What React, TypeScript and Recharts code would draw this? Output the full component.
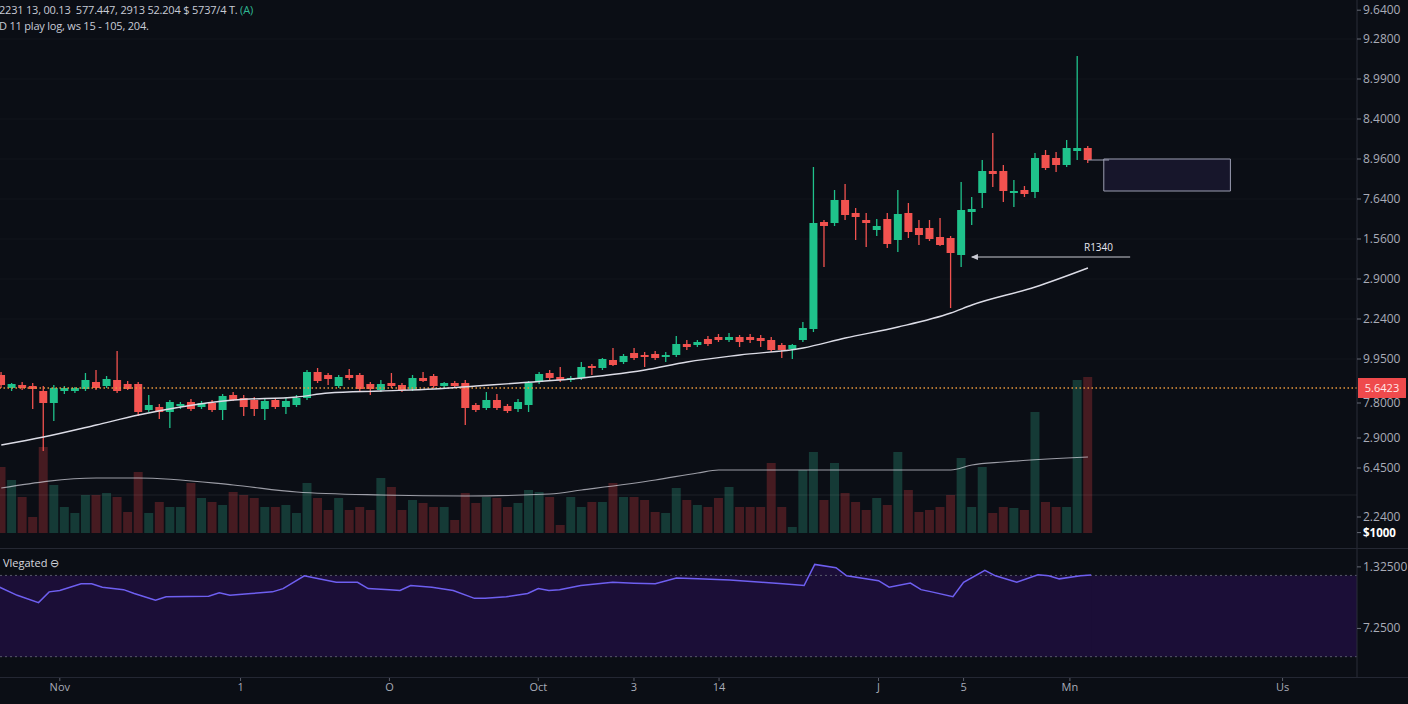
import React from 'react';
import {
  ComposedChart, Bar, Line, Area, XAxis, YAxis, ReferenceLine, ReferenceArea,
  ReferenceDot, Cell, CartesianGrid,
} from 'recharts';

// ---------- data ----------
const openP = [
  4.6, 4.275, 4.35, 4.325, 4.2, 3.9, 4.2, 4.2, 4.25, 4.425,
  4.325, 4.475, 4.375, 4.375, 3.725, 3.8, 3.675, 3.825, 3.925, 3.8,
  3.9, 3.725, 4.1, 4.025, 3.975, 3.75, 3.975, 3.8, 3.85, 4.025,
  4.675, 4.6, 4.325, 4.6, 4.6, 4.375, 4.225, 4.4, 4.35, 4.25,
  4.525, 4.575, 4.325, 4.4, 4.4, 3.85, 3.775, 3.975, 3.825, 3.75,
  3.85, 4.425, 4.65, 4.55, 4.475, 4.525, 4.825, 4.775, 4.975, 4.925,
  5.15, 5.1, 5.125, 5.05, 5.1, 5.375, 5.35, 5.5, 5.55, 5.475,
  5.55, 5.55, 5.525, 5.475, 5.35, 5.25, 5.475, 5.75, 8.425, 8.4,
  8.975, 8.65, 8.475, 8.225, 8.5, 7.975, 8.65, 8.275, 8.275, 8.05,
  8.025, 7.6, 8.675, 9.15, 9.7, 9.7, 9.15, 9.225, 9.175, 10.1,
  10.025, 9.85, 10.2, 10.275,
];
const highP = [
  4.675, 4.4, 4.425, 4.4, 4.325, 4.35, 4.325, 4.3, 4.65, 4.725,
  4.575, 5.2, 4.45, 4.425, 4.1, 3.875, 3.975, 3.925, 4.0, 3.95,
  3.975, 4.125, 4.175, 4.1, 4.05, 4.0, 4.025, 4.025, 4.1, 4.725,
  4.775, 4.65, 4.6, 4.75, 4.65, 4.425, 4.475, 4.65, 4.4, 4.6,
  4.675, 4.625, 4.425, 4.45, 4.475, 3.9, 4.175, 4.125, 3.875, 4.0,
  4.45, 4.675, 4.725, 4.8, 4.575, 4.925, 4.875, 5.025, 5.275, 5.125,
  5.275, 5.175, 5.2, 5.175, 5.575, 5.475, 5.475, 5.575, 5.625, 5.65,
  5.6, 5.625, 5.6, 5.55, 5.4, 5.375, 5.925, 9.8, 8.475, 9.225,
  9.375, 8.775, 8.65, 8.5, 8.65, 9.225, 8.9, 8.475, 8.475, 8.525,
  8.075, 9.425, 9.05, 9.975, 10.65, 9.85, 9.475, 9.325, 10.15, 10.225,
  10.175, 10.475, 12.575, 10.325,
];
const lowP = [
  4.275, 4.2, 4.225, 3.75, 2.7, 3.45, 4.125, 4.15, 4.2, 4.225,
  4.275, 4.15, 4.225, 3.575, 3.675, 3.5, 3.275, 3.75, 3.7, 3.75,
  3.675, 3.475, 3.95, 3.575, 3.575, 3.475, 3.75, 3.625, 3.8, 3.975,
  4.4, 4.35, 4.275, 4.475, 4.2, 4.1, 4.175, 4.275, 4.175, 4.2,
  4.425, 4.275, 4.275, 4.275, 3.35, 3.675, 3.725, 3.725, 3.65, 3.675,
  3.675, 4.375, 4.475, 4.425, 4.425, 4.475, 4.6, 4.725, 4.825, 4.875,
  4.975, 4.8, 4.975, 4.925, 5.05, 5.225, 5.3, 5.325, 5.425, 5.425,
  5.3, 5.4, 5.3, 5.175, 5.025, 5.0, 5.425, 5.675, 7.3, 8.325,
  8.475, 7.975, 7.8, 8.075, 7.775, 7.675, 8.025, 7.85, 7.95, 7.825,
  6.275, 7.3, 8.35, 8.775, 9.3, 8.925, 8.8, 9.05, 9.025, 9.725,
  9.675, 9.8, 9.975, 9.9,
];
const closeP = [
  4.35, 4.375, 4.275, 4.25, 3.9, 4.275, 4.275, 4.275, 4.475, 4.275,
  4.5, 4.2, 4.25, 3.675, 3.85, 3.675, 3.925, 3.875, 3.75, 3.9,
  3.725, 4.075, 3.975, 3.8, 3.75, 3.95, 3.8, 3.95, 4.025, 4.675,
  4.45, 4.5, 4.55, 4.525, 4.25, 4.25, 4.375, 4.325, 4.225, 4.525,
  4.45, 4.325, 4.4, 4.325, 3.775, 3.725, 3.975, 3.775, 3.7, 3.925,
  4.4, 4.625, 4.525, 4.475, 4.525, 4.8, 4.775, 5.0, 4.85, 5.075,
  5.025, 5.05, 5.025, 5.1, 5.375, 5.3, 5.425, 5.375, 5.475, 5.55,
  5.425, 5.475, 5.45, 5.225, 5.225, 5.35, 5.775, 8.4, 8.325, 8.975,
  8.6, 8.55, 8.4, 8.325, 7.875, 8.625, 8.175, 8.1, 8.0, 7.85,
  7.65, 8.725, 8.75, 9.7, 9.625, 9.2, 9.2, 9.125, 10.025, 9.775,
  9.85, 10.275, 10.275, 9.975,
];
const volume = [
  660, 530, 360, 160, 860, 480, 260, 200, 380, 380,
  400, 360, 210, 610, 200, 310, 260, 260, 500, 350,
  310, 280, 410, 380, 350, 260, 260, 280, 200, 500,
  350, 230, 350, 230, 260, 230, 550, 460, 230, 330,
  300, 260, 260, 130, 400, 300, 360, 350, 260, 300,
  430, 410, 360, 80, 360, 260, 310, 310, 500, 360,
  360, 330, 210, 200, 450, 330, 280, 260, 350, 460,
  260, 260, 260, 700, 260, 60, 630, 810, 330, 700,
  400, 310, 230, 350, 280, 810, 430, 210, 230, 260,
  380, 750, 260, 660, 200, 260, 250, 230, 1210, 310,
  260, 260, 1530, 1560,
];
// moving average of price, read at sampled candles
const maIdx = [0, 4, 9, 13, 17, 22, 28, 31, 36, 41, 45, 49, 54, 61, 65, 70, 76, 80, 85, 90, 92, 98, 103];
const maVal = [2.85, 3.05, 3.35, 3.6, 3.8, 3.975, 4.05, 4.15, 4.2, 4.25, 4.325, 4.4, 4.5, 4.725, 4.925, 5.1, 5.275, 5.525, 5.8, 6.15, 6.35, 6.8, 7.275];
// moving average of volume
const volMaIdx = [0, 9, 13, 22, 28, 36, 44, 52, 55, 62, 66, 68, 79, 90, 92, 95, 103];
const volMaVal = [450, 550, 550, 480, 410, 380, 370, 390, 430, 530, 600, 630, 630, 630, 680, 710, 760];
// oscillator
const oscIdx = [0, 2, 4, 5, 6, 8, 9, 10, 12, 13, 15, 16, 20, 21, 22, 24, 26, 27, 29, 30, 32, 34, 35, 37, 38, 39, 41, 43, 45, 46, 48, 50, 51, 52, 53, 55, 58, 60, 62, 64, 66, 69, 72, 74, 76, 77, 79, 80, 83, 84, 86, 87, 88, 90, 91, 93, 94, 96, 98, 99, 100, 102, 103];
const oscVal = [65.0, 60.2, 56.6, 61.9, 62.6, 65.9, 65.9, 64.2, 63.0, 61.1, 57.8, 59.5, 59.8, 61.4, 60.2, 61.1, 61.9, 63.5, 69.8, 68.7, 66.6, 66.6, 63.5, 63.0, 62.6, 65.0, 64.2, 62.6, 58.7, 58.7, 59.5, 61.1, 63.5, 62.6, 63.0, 65.0, 66.6, 66.2, 65.9, 68.7, 68.3, 67.8, 66.6, 65.9, 65.0, 75.4, 73.8, 69.8, 67.4, 64.2, 66.2, 63.0, 61.9, 59.5, 66.6, 72.5, 69.8, 66.6, 70.3, 69.8, 68.3, 69.8, 70.2];

const SLOTS = 129;
const xTickIdx = [6, 23, 37, 51, 60, 68, 83, 91, 101, 121];
const xTickLabels = ['Nov', '1', 'O', 'Oct', '3', '14', 'J', '5', 'Mn', 'Us'];
const priceTicks = [13.72, 13, 12, 11, 10, 9, 8, 7, 6, 5, 3.9, 3.025, 2.275, 1.05, 0.66];
const priceTickLabels = ['9.6400', '9.2800', '8.9900', '8.4000', '8.9600', '7.6400', '1.5600', '2.9000', '2.2400', '9.9500', '7.8000', '2.9000', '6.4500', '2.2400', '$1000'];
const oscTicks = [74.2, 43.9];
const oscTickLabels = ['1.32500', '7.2500'];
const lastPrice = 4.275;
const lastPriceLabel = '5.6423';
const levelLabel = 'R1340';
const headerLine1 = '2231 13, 00.13  577.447, 2913 52.204 $ 5737/4 T.';
const headerLine2 = 'D 11 play log, ws 15 - 105, 204.';
const oscTitle = 'Vlegated \u2296';

// ---------- table ----------
const rows = Array.from({ length: SLOTS }, (_, i) => {
  const has = i < openP.length;
  const mi = maIdx.indexOf(i);
  const vi = volMaIdx.indexOf(i);
  const oi = oscIdx.indexOf(i);
  return {
    i,
    o: has ? openP[i] : null,
    h: has ? highP[i] : null,
    l: has ? lowP[i] : null,
    c: has ? closeP[i] : null,
    range: has ? [lowP[i], highP[i]] : null,
    vol: has ? volume[i] : null,
    up: has ? closeP[i] >= openP[i] : false,
    ma: mi >= 0 ? maVal[mi] : null,
    volMa: vi >= 0 ? volMaVal[vi] : null,
    osc: oi >= 0 ? oscVal[oi] : null,
  };
});

// ---------- style ----------
const BG = '#0b0e15';
const GREEN = '#1fc28b';
const RED = '#f2524f';
const VOL_GREEN = '#153a36';
const VOL_RED = '#461b21';
const AXIS = '#2a2d38';
const TXT = '#a9acb8';
const FONT = '"Open Sans", "Noto Sans", sans-serif';
const W = 1412;
const AXW = 51;

const NoDot = () => <g />;

const Candle = (props: any) => {
  const { x, y, width, height, payload } = props;
  if (!payload || payload.o == null || x == null || y == null) return null;
  const top = Math.min(y, y + height);
  const hh = Math.abs(height);
  const span = payload.h - payload.l || 1;
  const yO = top + ((payload.h - payload.o) / span) * hh;
  const yC = top + ((payload.h - payload.c) / span) * hh;
  const color = payload.up ? GREEN : RED;
  const bodyTop = Math.min(yO, yC);
  const bodyH = Math.max(1.5, Math.abs(yC - yO));
  const cx = x + width / 2;
  return (
    <g>
      <line x1={cx} x2={cx} y1={top} y2={top + hh} stroke={color} strokeWidth={1.3} />
      <rect x={x} y={bodyTop} width={width} height={bodyH} fill={color} />
    </g>
  );
};

const PriceTick = (props: any) => {
  const { x, y, payload } = props;
  const k = priceTicks.indexOf(payload.value);
  const label = k >= 0 ? priceTickLabels[k] : '';
  const bold = label.startsWith('$');
  return (
    <text x={x} y={y} dy={4} fill={bold ? '#ffffff' : TXT} fontSize={bold ? 11.5 : 12}
      fontWeight={bold ? 700 : 400} fontFamily={FONT}>{label}</text>
  );
};

const OscTick = (props: any) => {
  const { x, y, payload } = props;
  const k = oscTicks.indexOf(payload.value);
  return (
    <text x={x} y={y} dy={4} fill={TXT} fontSize={12} fontFamily={FONT}>
      {k >= 0 ? oscTickLabels[k] : ''}
    </text>
  );
};

const PriceTag = (props: any) => {
  const vb = props.viewBox || {};
  const x = (vb.x ?? 0) + (vb.width ?? 0);
  const y = vb.y ?? 0;
  return (
    <g>
      <rect x={x + 1} y={y - 10} width={48} height={20} fill="#ef4a4c" />
      <text x={x + 25} y={y + 4} textAnchor="middle" fill="#ffe9e9" fontSize={11}
        fontFamily={FONT}>{lastPriceLabel}</text>
    </g>
  );
};

export default function App() {
  return (
    <div style={{ position: 'fixed', left: 0, top: 0, width: 1408, height: 704, background: BG, overflow: 'hidden', fontFamily: FONT }}>
      {/* volume pane */}
      <div style={{ position: 'absolute', left: -4, top: 300 }}>
        <ComposedChart width={W} height={233} data={rows} margin={{ top: 0, right: AXW, bottom: 0, left: 0 }} barCategoryGap="5%">
          <XAxis dataKey="i" type="category" hide />
          <YAxis type="number" domain={[0, 2330]} hide />
          <ReferenceLine y={380} stroke="#ffffff" strokeOpacity={0.08} />
          <Bar dataKey="vol" isAnimationActive={false}>
            {rows.map((r) => (
              <Cell key={r.i} fill={r.up ? VOL_GREEN : VOL_RED} />
            ))}
          </Bar>
          <Line dataKey="volMa" type="monotone" connectNulls dot={NoDot} activeDot={false} stroke="#d8d8e2"
            strokeOpacity={0.7} strokeWidth={1.2} isAnimationActive={false} />
        </ComposedChart>
      </div>

      {/* price pane */}
      <div style={{ position: 'absolute', left: -4, top: 0 }}>
        <ComposedChart width={W} height={548} data={rows} margin={{ top: 0, right: 0, bottom: 0, left: 0 }} barCategoryGap="10%">
          <CartesianGrid vertical={false} stroke="#ffffff" strokeOpacity={0.03}
            horizontalValues={[13, 12, 11, 10, 9, 8, 7, 6, 5]} />
          <XAxis dataKey="i" type="category" hide />
          <YAxis orientation="right" width={AXW} type="number" domain={[0.275, 13.975]}
            allowDataOverflow ticks={priceTicks} interval={0} tick={(p: any) => <PriceTick {...p} />}
            tickSize={4} tickLine={{ stroke: '#666a76' }} axisLine={{ stroke: AXIS }} />
          <ReferenceLine y={lastPrice} stroke="#e8973c" strokeDasharray="1.5 2.5" strokeWidth={1.4}
            label={<PriceTag />} />
          <ReferenceArea x1={105} x2={116} y1={9.2} y2={10.0} fill="#17162b" fillOpacity={1}
            stroke="#9c9eb2" strokeWidth={1} />
          <ReferenceLine segment={[{ x: 103, y: 9.975 }, { x: 105, y: 9.975 }]} stroke="#9c9eb2" />
          <ReferenceLine segment={[{ x: 92, y: 7.55 }, { x: 107, y: 7.55 }]} stroke="#c9c9d2" strokeWidth={1} />
          <ReferenceDot x={92} y={7.55} r={0}
            shape={(p: any) => (
              <path d={`M${p.cx - 1},${p.cy} L${p.cx + 6},${p.cy - 3} L${p.cx + 6},${p.cy + 3} Z`} fill="#c9c9d2" />
            )} />
          <ReferenceDot x={104} y={7.7} r={0}
            shape={(p: any) => (
              <text x={p.cx} y={p.cy} textAnchor="middle" fill="#e6e6ee" fontSize={10} fontFamily={FONT}>{levelLabel}</text>
            )} />
          <Bar dataKey="range" shape={Candle} isAnimationActive={false} />
          <Line dataKey="ma" type="monotone" connectNulls dot={NoDot} activeDot={false} stroke="#dcdce6"
            strokeWidth={1.4} isAnimationActive={false} />
        </ComposedChart>
      </div>

      {/* separator between panes */}
      <div style={{ position: 'absolute', left: 0, top: 548, width: 1408, height: 1, background: '#252833' }} />

      {/* oscillator pane + time axis */}
      <div style={{ position: 'absolute', left: -4, top: 549 }}>
        <ComposedChart width={W} height={155} data={rows} margin={{ top: 0, right: 0, bottom: 0, left: 0 }}>
          <XAxis dataKey="i" type="category" ticks={xTickIdx} interval={0} height={27}
            tickFormatter={(v: any) => xTickLabels[xTickIdx.indexOf(v)] ?? ''}
            axisLine={false} tickSize={4} tickLine={{ stroke: '#5c5f6b' }}
            tick={{ fill: TXT, fontSize: 11, fontFamily: FONT }} />
          <YAxis orientation="right" width={AXW} type="number" domain={[20, 83]} allowDataOverflow
            ticks={oscTicks} interval={0} tick={(p: any) => <OscTick {...p} />}
            tickSize={4} tickLine={{ stroke: '#666a76' }} axisLine={{ stroke: AXIS }} />
          <ReferenceArea y1={30} y2={70} fill="#1b0e37" fillOpacity={1} stroke="none" />
          <Area dataKey="osc" baseValue={30} type="linear" connectNulls fill="#1b0e37" fillOpacity={1}
            stroke="none" dot={NoDot} activeDot={false} isAnimationActive={false} />
          <ReferenceLine y={70} stroke="#575a6a" strokeDasharray="2 3" />
          <ReferenceLine y={30} stroke="#575a6a" strokeDasharray="2 3" />
          <Line dataKey="osc" type="linear" connectNulls dot={NoDot} activeDot={false} stroke="#6e5ff0"
            strokeWidth={1.5} isAnimationActive={false} />
        </ComposedChart>
      </div>

      <div style={{ position: 'absolute', left: 0, top: 677, width: 1408, height: 1, background: '#242733' }} />

      {/* header */}
      <div style={{ position: 'absolute', left: -1, top: 2, fontSize: 11, color: '#c8cbd5', whiteSpace: 'pre', letterSpacing: -0.2 }}>
        {headerLine1} <span style={{ color: '#2fb893' }}>(A)</span>
      </div>
      <div style={{ position: 'absolute', left: -1, top: 18, fontSize: 11, color: '#c8cbd5', whiteSpace: 'pre', letterSpacing: -0.2 }}>
        {headerLine2}
      </div>
      <div style={{ position: 'absolute', left: 3, top: 555, fontSize: 11, color: '#d6d7df', whiteSpace: 'pre' }}>
        {oscTitle}
      </div>
    </div>
  );
}
